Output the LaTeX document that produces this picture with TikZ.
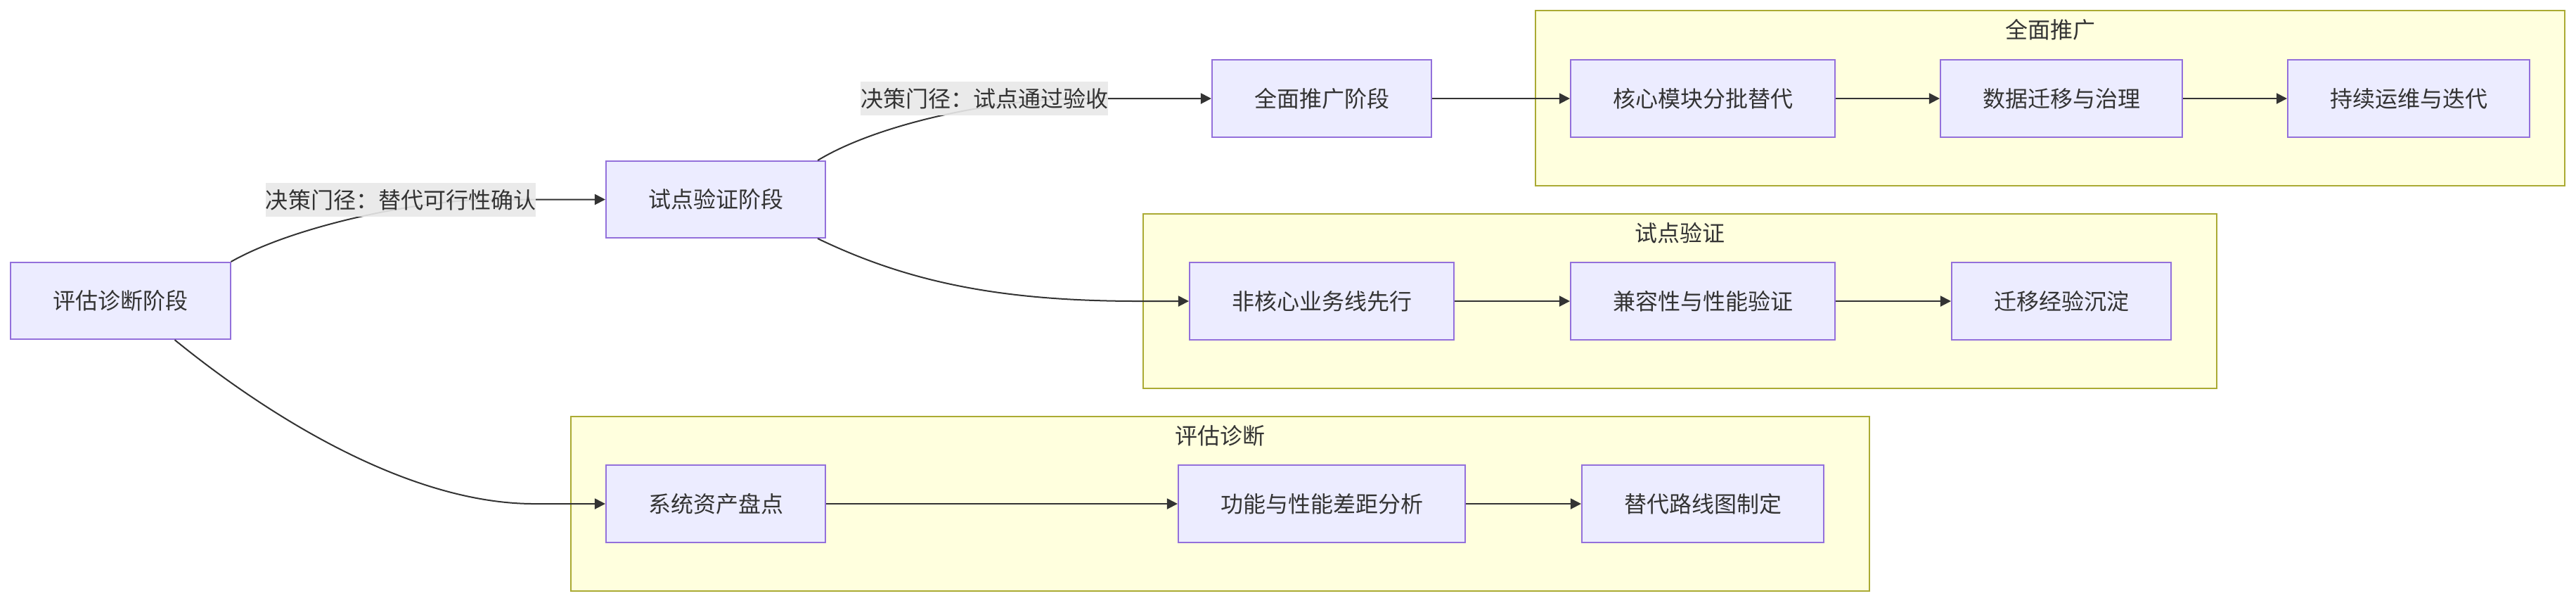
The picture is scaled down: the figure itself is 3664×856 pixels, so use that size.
\documentclass[tikz,border=0pt]{standalone}
\usepackage{fontspec}
\newfontfamily\cjk{Noto Sans CJK SC}
\usetikzlibrary{arrows.meta,calc}
\definecolor{nodefill}{HTML}{ECECFF}
\definecolor{nodedraw}{HTML}{9370DB}
\definecolor{clfill}{HTML}{FFFFDE}
\definecolor{cldraw}{HTML}{AAAA33}
\definecolor{txt}{HTML}{333333}
\definecolor{edge}{HTML}{333333}
\definecolor{lblbg}{HTML}{E8E8E8}
\tikzset{
  box/.style={draw=nodedraw,fill=nodefill,line width=0.02cm,minimum height=1.09cm,inner xsep=0.6cm,inner ysep=0pt,text=txt,font=\cjk\fontsize{9.1pt}{11pt}\selectfont},
  cluster/.style={draw=cldraw,fill=clfill,line width=0.02cm},
  cltitle/.style={text=txt,font=\cjk\fontsize{9.1pt}{11pt}\selectfont,inner sep=0pt},
  elabel/.style={fill=lblbg,fill opacity=0.9,text opacity=1,text=txt,inner xsep=0pt,inner ysep=0pt,minimum height=0.48cm,font=\cjk\fontsize{9.1pt}{11pt}\selectfont},
  conn/.style={draw=edge,line width=0.02cm,-{Triangle[length=0.15cm,width=0.15cm]}}
}
\begin{document}
\begin{tikzpicture}[x=0.01cm,y=-0.01cm]
\useasboundingbox (0,0) rectangle (3664,856);
% clusters
\draw[cluster] (2184,15) rectangle (3648,264);
\node[cltitle] (t1) at (2916,42) {全面推广};
\draw[cluster] (1626,304) rectangle (3153,552);
\node[cltitle] (t2) at (2389.5,331) {试点验证};
\draw[cluster] (812,592) rectangle (2659,840);
\node[cltitle] (t3) at (1735.5,619) {评估诊断};
% nodes
\node[box] (A) at (171.5,427.5) {评估诊断阶段};
\node[box] (B) at (1018,283.5) {试点验证阶段};
\node[box] (C) at (1880,140) {全面推广阶段};
\node[box] (F1) at (2422,140) {核心模块分批替代};
\node[box] (F2) at (2932,140) {数据迁移与治理};
\node[box] (F3) at (3426,140) {持续运维与迭代};
\node[box] (P1) at (1880,428) {非核心业务线先行};
\node[box] (P2) at (2422,428) {兼容性与性能验证};
\node[box] (P3) at (2932,428) {迁移经验沉淀};
\node[box] (E1) at (1018,716) {系统资产盘点};
\node[box] (E2) at (1880,716) {功能与性能差距分析};
\node[box] (E3) at (2422,716) {替代路线图制定};
% curved edges
\coordinate (e1m) at (700,283.5);
\draw[conn] (A.north east) .. controls (420,320) and (600,283.5) .. (e1m) -- (B.west);
\coordinate (e3m) at (1540,140);
\draw[conn] ($(B.north east)+(-12,0)$) .. controls (1250,175) and (1420,140) .. (e3m) -- (C.west);
\coordinate (e4m) at (1620,428);
\draw[conn] ($(B.south east)+(-12,0)$) .. controls (1290,400) and (1420,428) .. (e4m) -- (P1.west);
\coordinate (e2m) at (760,716);
\draw[conn] ($(A.south)+(77,0)$) .. controls (380,590) and (580,716) .. (e2m) -- (E1.west);
% labels
\node[elabel] (L1) at (570,284) {决策门径：替代可行性确认};
\node[elabel] (L2) at (1400,140) {决策门径：试点通过验收};
% straight edges
\draw[conn] (C) -- (F1);
\draw[conn] (F1) -- (F2);
\draw[conn] (F2) -- (F3);
\draw[conn] (P1) -- (P2);
\draw[conn] (P2) -- (P3);
\draw[conn] (E1) -- (E2);
\draw[conn] (E2) -- (E3);
\end{tikzpicture}
\end{document}
